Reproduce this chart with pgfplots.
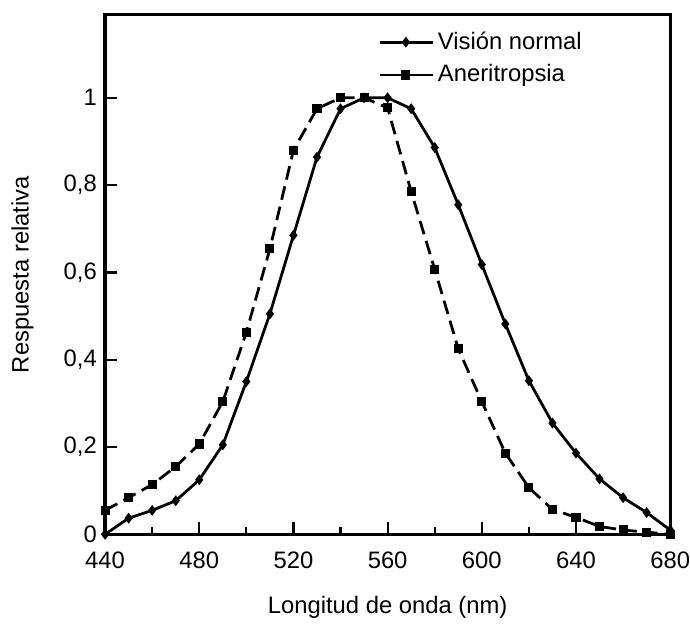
\documentclass[border=0pt]{standalone}
\usepackage{fontspec}
\setmainfont{Liberation Sans}
\usepackage{pgfplots}
\pgfplotsset{compat=1.18}
\begin{document}
\fontsize{12}{14.5}\selectfont
\begin{tikzpicture}
\begin{axis}[
  name=ax,
  scale only axis,
  width=285pt, height=262pt,
  xmin=440, xmax=680, ymin=0, ymax=1.19,
  axis line style={line width=1.6pt},
  xtick={440,480,...,680},
  minor xtick={460,500,...,660},
  ytick={0,0.2,0.4,0.6,0.8,1},
  yticklabels={0,{0,2},{0,4},{0,6},{0,8},1},
  xtick pos=bottom, ytick pos=left,
  tick align=inside,
  major tick length=6pt, minor tick length=3.5pt,
  every tick/.style={line width=1.1pt, black},
  tick label style={font=\fontsize{12}{14}\selectfont},
  label style={font=\fontsize{12}{14}\selectfont},
  /pgf/number format/assume math mode=true,
  /pgf/number format/1000 sep={},
  xticklabel style={yshift=-4.5pt},
  xlabel={Longitud de onda (nm)},
  ylabel={Respuesta relativa},
  xlabel style={at={(axis description cs:0.5,-0.1398)}, anchor=center},
  ylabel style={at={(axis description cs:-0.146,0.5)}, anchor=center},
  legend style={draw=none, fill=none, at={(0.48,0.98)}, anchor=north west, row sep=2pt, font=\fontsize{12}{14}\selectfont, inner sep=1pt},
  legend cell align=left,
  legend image code/.code={\draw[#1, solid] (0pt,0pt) -- (26.5pt,0pt); \draw[#1, solid] plot coordinates {(13pt,0pt)};},
]
\addplot[black, line width=1.4pt, mark=diamond*, mark size=1.6pt] coordinates {
(440,0) (450,0.037) (460,0.055) (470,0.077) (480,0.125) (490,0.205) (500,0.35) (510,0.505)
(520,0.685) (530,0.864) (540,0.975) (550,1.0) (560,1.0) (570,0.975) (580,0.886) (590,0.755)
(600,0.618) (610,0.482) (620,0.352) (630,0.255) (640,0.186) (650,0.127) (660,0.084) (670,0.05) (680,0.01)
};
\addlegendentry{Visión normal}
\addplot[black, line width=1.4pt, dash pattern=on 7pt off 3.5pt, mark=square*, mark size=1.6pt, mark options={solid}] coordinates {
(440,0.055) (450,0.084) (460,0.114) (470,0.155) (480,0.207) (490,0.304) (500,0.463) (510,0.654)
(520,0.88) (530,0.975) (540,1.0) (550,1.0) (560,0.977) (570,0.785) (580,0.607) (590,0.425)
(600,0.304) (610,0.186) (620,0.107) (630,0.057) (640,0.039) (650,0.018) (660,0.01) (670,0.005) (680,0)
};
\addlegendentry{Aneritropsia}
\end{axis}
\pgfresetboundingbox
\path[use as bounding box] ([xshift=-53pt,yshift=-46pt]ax.south west) rectangle ([xshift=10pt,yshift=7.5pt]ax.north east);
\end{tikzpicture}
\end{document}
